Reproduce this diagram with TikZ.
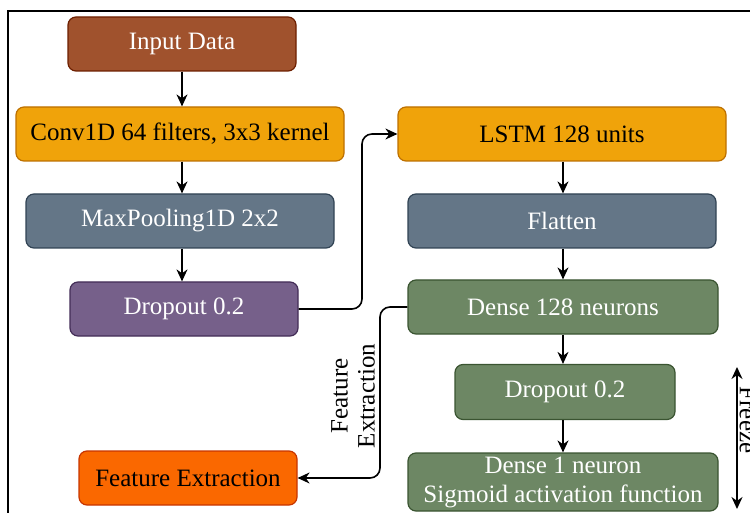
\documentclass[tikz,border=0pt]{standalone}
\usepackage{fontspec}
\setmainfont{Liberation Serif}
\usetikzlibrary{arrows.meta}
\definecolor{inFill}{HTML}{A0522D}\definecolor{inLine}{HTML}{6D1F00}
\definecolor{orFill}{HTML}{F0A30A}\definecolor{orLine}{HTML}{BD7000}
\definecolor{slFill}{HTML}{647687}\definecolor{slLine}{HTML}{314354}
\definecolor{puFill}{HTML}{76608A}\definecolor{puLine}{HTML}{432D57}
\definecolor{grFill}{HTML}{6D8764}\definecolor{grLine}{HTML}{3A5431}
\definecolor{feFill}{HTML}{FA6800}\definecolor{feLine}{HTML}{C73500}
\tikzset{
  blk/.style={rounded corners=8pt, draw, line width=1.2pt, minimum height=54pt,
    inner sep=0pt, align=center, font=\fontsize{25}{29}\selectfont},
  brownbox/.style={blk, fill=inFill, draw=inLine, text=white},
  orangebox/.style={blk, fill=orFill, draw=orLine, text=black},
  slatebox/.style={blk, fill=slFill, draw=slLine, text=white},
  purplebox/.style={blk, fill=puFill, draw=puLine, text=white},
  greenbox/.style={blk, fill=grFill, draw=grLine, text=white},
  featbox/.style={blk, fill=feFill, draw=feLine, text=black},
  conn/.style={line width=1.6pt, -{Stealth[length=12pt,width=11pt]}},
  lbl/.style={font=\fontsize{25}{27}\selectfont, align=center}
}
\begin{document}
\begin{tikzpicture}[x=1pt,y=-1pt]
\useasboundingbox (0,0) rectangle (750,513);
\clip (0,0) rectangle (750,513);
% outer frame
\draw[line width=1.5pt] (8,11) rectangle (780,540);

% left column
\node[brownbox, minimum width=228pt] (input) at (182,44) {Input Data};
\node[orangebox, minimum width=328pt] (conv) at (180,134) {Conv1D 64 filters, 3x3 kernel};
\node[slatebox, minimum width=308pt] (pool) at (180,221) {MaxPooling1D 2x2};
\node[purplebox, minimum width=228pt] (dropA) at (184,309) {Dropout 0.2};
\node[featbox, minimum width=218pt] (feat) at (188,478) {Feature Extraction};

% right column
\node[orangebox, minimum width=328pt] (lstm) at (562,134) {LSTM 128 units};
\node[slatebox, minimum width=308pt] (flat) at (562,221) {Flatten};
\node[greenbox, minimum width=310pt] (dense) at (563,307) {Dense 128 neurons};
\node[greenbox, minimum width=220pt, minimum height=55pt] (dropB) at (565,392) {Dropout 0.2};
\node[greenbox, minimum width=310pt, minimum height=58pt] (out) at (563,482) {Dense 1 neuron\\Sigmoid activation function};

% connectors
\draw[conn] (input.south -| 182,0) -- (conv.north -| 182,0);
\draw[conn] (conv.south -| 182,0) -- (pool.north -| 182,0);
\draw[conn] (pool.south -| 182,0) -- (dropA.north -| 182,0);
\draw[conn, rounded corners=10pt] (dropA.east) -- (362,309) |- (lstm.west);
\draw[conn] (lstm.south -| 563,0) -- (flat.north -| 563,0);
\draw[conn] (flat.south -| 563,0) -- (dense.north -| 563,0);
\draw[conn] (dense.south -| 563,0) -- (dropB.north -| 563,0);
\draw[conn] (dropB.south -| 563,0) -- (out.north -| 563,0);
\draw[conn, rounded corners=10pt] (dense.west) -- (380,307) |- (feat.east);
\node[lbl, rotate=90] (featlbl) at (353,396) {Feature\\Extraction};

% freeze marker
\coordinate (frTop) at (737,367);
\coordinate (frBot) at (737,509);
\draw[line width=1.6pt, {Stealth[length=12pt,width=11pt]}-{Stealth[length=12pt,width=11pt]}] (frTop) -- (frBot);
\node[lbl, rotate=-90] (freeze) at (748,420) {Freeze};
\end{tikzpicture}
\end{document}
